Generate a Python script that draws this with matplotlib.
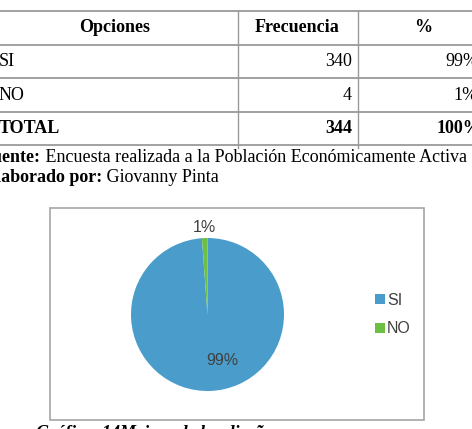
import numpy as np
import matplotlib
matplotlib.use("Agg")
import matplotlib.pyplot as plt
from matplotlib.patches import Rectangle

# table / chart data
opciones = ["SI", "NO"]
frecuencia = [340, 4]
porcentaje = ["99%", "1%"]
total_label = "TOTAL"
total_freq = 344
total_pct = "100%"
headers = ["Opciones", "Frecuencia", "%"]
colores = ["#4A9DCB", "#6DC044"]

W, H = 472, 429
fig = plt.figure(figsize=(W / 100, H / 100), dpi=100)
fig.patch.set_facecolor("white")

# overlay in pixel coords for the document part
doc = fig.add_axes([0, 0, 1, 1])
doc.set_xlim(0, W)
doc.set_ylim(H, 0)
doc.axis("off")

serif = "Liberation Serif"
sans = "Liberation Sans"
gris = "#9a9a9a"

# table grid
row_y = [11, 45, 78, 112, 145]
col_x = [238, 358]
for y in row_y:
    doc.plot([-5, W + 5], [y, y], color=gris, lw=1.3, solid_capstyle="butt")
for x in col_x:
    doc.plot([x, x], [row_y[0], row_y[-1] + 3], color=gris, lw=1.0)

fs = 13
hy = (row_y[0] + row_y[1]) / 2
doc.text(115, hy, headers[0], ha="center", va="center", family=serif,
         weight="bold", fontsize=fs)
doc.text(297, hy, headers[1], ha="center", va="center", family=serif,
         weight="bold", fontsize=fs)
doc.text(423, hy, headers[2], ha="center", va="center", family=serif,
         weight="bold", fontsize=fs)

for i in range(len(opciones)):
    cy = (row_y[i + 1] + row_y[i + 2]) / 2
    doc.text(-1, cy, opciones[i], ha="left", va="center", family=serif, fontsize=fs)
    doc.text(352, cy, str(frecuencia[i]), ha="right", va="center", family=serif, fontsize=fs)
    doc.text(478, cy, porcentaje[i], ha="right", va="center", family=serif, fontsize=fs)

cy = (row_y[3] + row_y[4]) / 2
doc.text(-1, cy, total_label, ha="left", va="center", family=serif,
         weight="bold", fontsize=fs)
doc.text(352, cy, str(total_freq), ha="right", va="center", family=serif,
         weight="bold", fontsize=fs)
doc.text(481, cy, total_pct, ha="right", va="center", family=serif,
         weight="bold", fontsize=fs)

# source lines
t1 = doc.text(-18, 157, "Fuente:", ha="left", va="center", family=serif,
              weight="bold", fontsize=fs)
doc.annotate(" Encuesta realizada a la Población Económicamente Activa",
             xy=(1, 0.5), xycoords=t1, va="center", family=serif, fontsize=fs)
t2 = doc.text(-16, 178, "Elaborado por:", ha="left", va="center", family=serif,
              weight="bold", fontsize=fs)
doc.annotate(" Giovanny Pinta", xy=(1, 0.5), xycoords=t2, va="center",
             family=serif, fontsize=fs)

# chart frame
doc.add_patch(Rectangle((50, 208), 374, 212, fill=False, ec="#a6a6a6", lw=1.2))

# figure caption (cut at the bottom)
doc.text(36, 425, "Gráfico  14Mejora de los diseños", ha="left", va="top",
         family=serif, weight="bold", style="italic", fontsize=fs)

# pie
cx, cy, r = 207.5, 314.5, 76.5
pax = fig.add_axes([(cx - r) / W, (H - cy - r) / H, 2 * r / W, 2 * r / H])
wedges, _ = pax.pie(frecuencia, colors=colores, startangle=90, counterclock=False,
                    wedgeprops=dict(linewidth=0))
pax.set_xlim(-1, 1)
pax.set_ylim(-1, 1)
pax.set_aspect("equal")
pax.text(-0.04, 1.14, porcentaje[1], ha="center", va="center", family=sans,
         fontsize=11.5, color="#404040")
pax.text(0.2, -0.6, porcentaje[0], ha="center", va="center", family=sans,
         fontsize=11.5, color="#404040")

leg = fig.legend(wedges, opciones, loc="center left",
                 bbox_to_anchor=(361 / W, 1 - 314.5 / H),
                 frameon=False, handlelength=0.6, handleheight=0.6,
                 handletextpad=0.12, labelspacing=0.85,
                 prop={"family": sans, "size": 11.5})
for t in leg.get_texts():
    t.set_color("#404040")

fig.savefig("out.png", dpi=100)
